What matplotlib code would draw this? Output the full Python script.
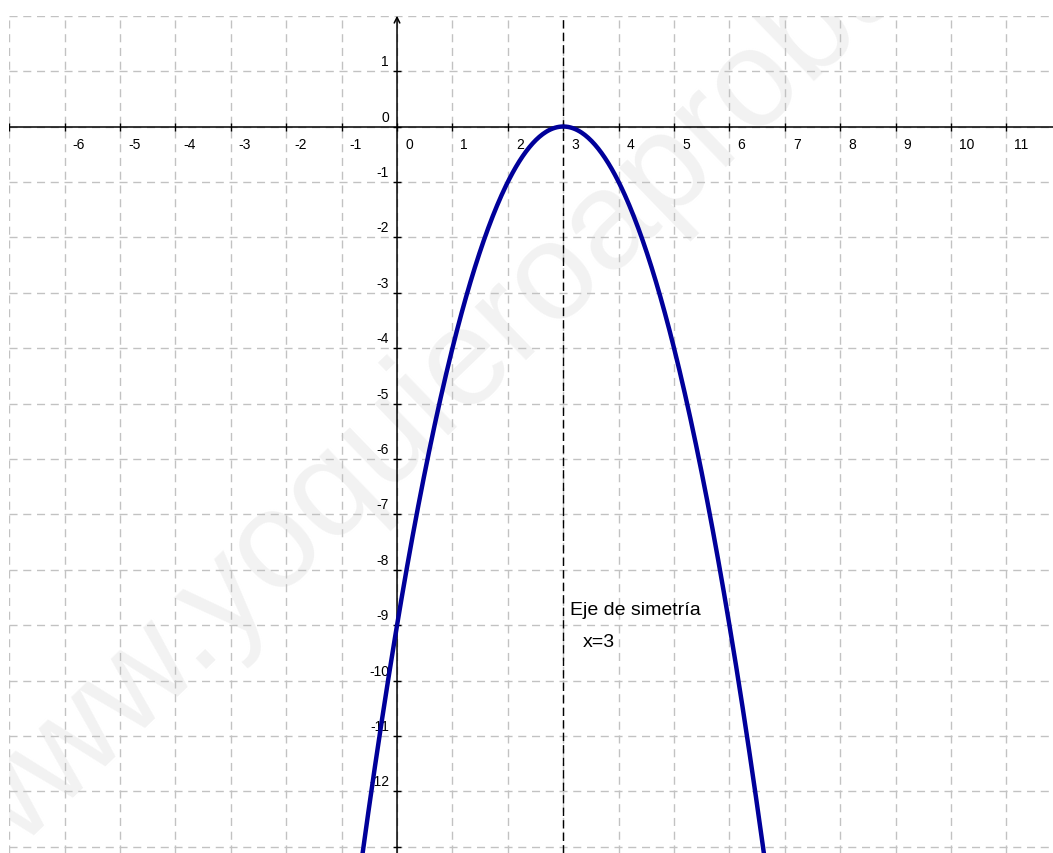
import numpy as np
import matplotlib
matplotlib.use('Agg')
import matplotlib.pyplot as plt

plt.rcParams['font.family'] = ['Liberation Sans', 'DejaVu Sans']
plt.rcParams['lines.scale_dashes'] = False

# parabola y = a*(x - h)^2 + k  (vertex at x=3)
a = -1
h = 3
k = 0

x_labels = list(range(-6, 12))
y_labels = list(range(-12, 2))
x_range = (-7, 11.84)
y_range = (-13.11, 2)

text_eje = 'Eje de simetría'
text_axis = 'x=3'
watermark = 'www.yoquieroaprobar.es'

fig = plt.figure(figsize=(10.53, 8.54), dpi=100)
ax = fig.add_axes([9.2 / 1053, 0, 1 - 9.2 / 1053, 1 - 16.7 / 854])
ax.set_xlim(*x_range)
ax.set_ylim(*y_range)
ax.set_xticks(range(-7, 12))
ax.set_yticks(range(-13, 3))
ax.grid(True, color='#c2c2c2', linewidth=1, linestyle=(0, (5.8, 4.1)))
ax.tick_params(length=0, labelbottom=False, labelleft=False)
for s in ax.spines.values():
    s.set_visible(False)

# watermark
ax.text(-7.4, -13.6, watermark, rotation=44, rotation_mode='anchor',
        fontsize=100, color='#f2f2f2', ha='left', va='baseline', zorder=0.8, clip_on=True)

# axes with arrow
ax.axhline(0, color='black', lw=1.1, zorder=3)
ax.annotate('', xy=(0, y_range[1]), xytext=(0, y_range[0]),
            arrowprops=dict(arrowstyle='->', color='black', lw=1.1, shrinkA=0, shrinkB=0), zorder=3)
ax.plot(range(-7, 12), [0] * 19, ls='none', marker='|', ms=6, mew=1, color='black', zorder=3)
ax.plot([0] * 15, range(-13, 2), ls='none', marker='_', ms=6, mew=1, color='black', zorder=3)

for xv in x_labels:
    ax.annotate(str(xv), (xv, 0), xytext=(8, -17.5), textcoords='offset pixels',
                ha='left', va='center', fontsize=10)
for yv in y_labels:
    ax.annotate(str(yv), (0, yv), xytext=(-8, 10), textcoords='offset pixels',
                ha='right', va='center', fontsize=10)

# axis of symmetry
ax.axvline(h, color='black', lw=1, linestyle=(0, (6, 3)), zorder=3)

# parabola
xs = np.linspace(-1, 7, 400)
ax.plot(xs, a * (xs - h) ** 2 + k, color='#00009a', lw=3.2, zorder=4)

ax.text(3.13, -8.72, text_eje, fontsize=14, ha='left', va='center')
ax.text(3.36, -9.30, text_axis, fontsize=14, ha='left', va='center')

fig.savefig('out.png', dpi=100)
